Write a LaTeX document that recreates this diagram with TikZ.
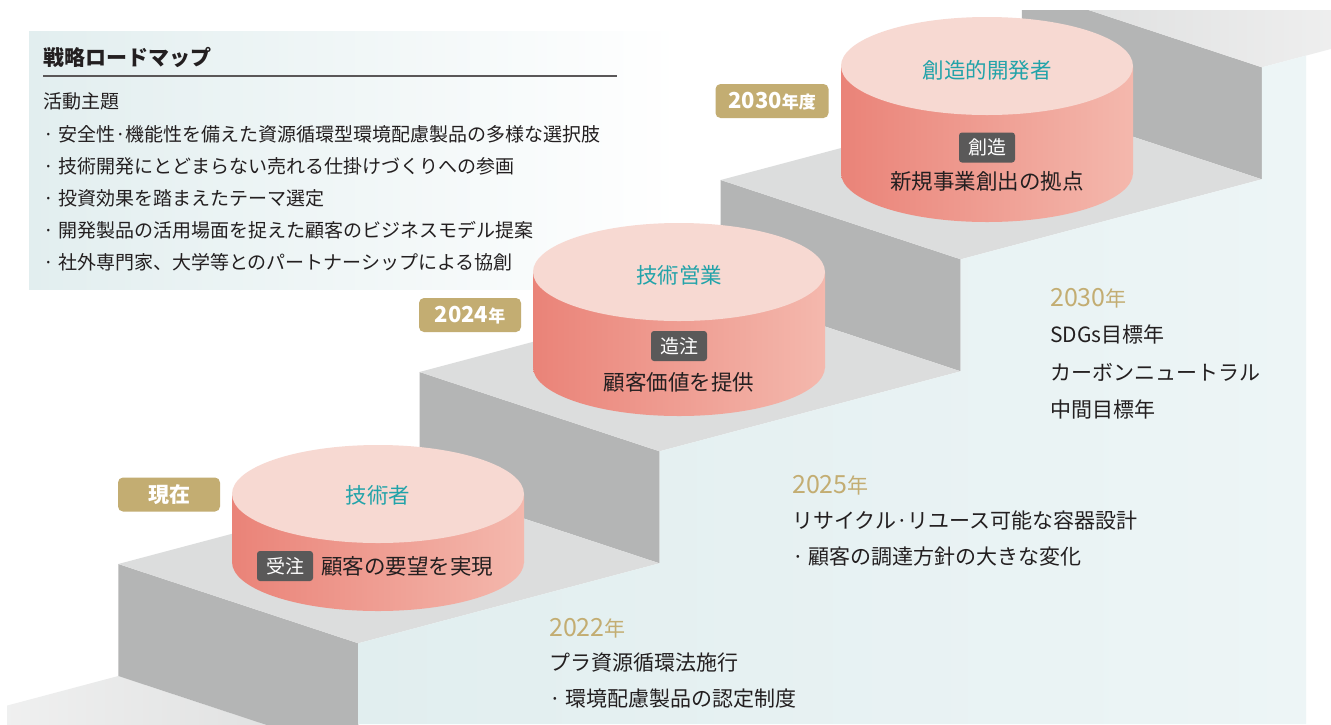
\documentclass[tikz,border=0pt]{standalone}
\usepackage{fontspec}
\setmainfont{Noto Sans CJK JP}
\definecolor{riser}{HTML}{B4B5B5}
\definecolor{tread}{HTML}{DCDDDD}
\definecolor{treadhi}{HTML}{F2F2F2}
\definecolor{faceL}{HTML}{E1EEEF}
\definecolor{faceR}{HTML}{EDF5F6}
\definecolor{panelL}{HTML}{E2EEEF}
\definecolor{cylL}{HTML}{EA8378}
\definecolor{cylR}{HTML}{F4B8AD}
\definecolor{cylTop}{HTML}{F7D9D2}
\definecolor{tealtxt}{HTML}{22A3A9}
\definecolor{goldc}{HTML}{C3AD72}
\definecolor{badgec}{HTML}{5A5959}
\definecolor{ink}{HTML}{231F20}
\newcommand\mycyl[3]{%
  \shade[left color=cylL, right color=cylR] (#1-146,#2) rectangle (#1+146,#2+#3);
  \shade[left color=cylL, right color=cylR] (#1,#2+#3) ellipse [x radius=146, y radius=49];
  \fill[cylTop] (#1,#2) ellipse [x radius=146, y radius=49];
}
\newcommand\yr[3]{{\fontsize{#2}{#2}\selectfont #1}{\fontsize{#3}{#3}\selectfont 年}}
\tikzset{
  body/.style={font=\fontsize{21}{21}\selectfont, text=ink, inner sep=0pt, anchor=west},
  paneltxt/.style={font=\fontsize{19}{19}\selectfont, text=ink, inner sep=0pt, anchor=west},
  cyltitle/.style={font=\fontsize{21.5}{21.5}\selectfont, text=tealtxt, inner sep=0pt},
  cyltxt/.style={font=\fontsize{21.5}{21.5}\selectfont, text=ink, inner sep=0pt},
  badgebox/.style={fill=badgec, text=white, rounded corners=3pt, minimum width=56pt, minimum height=30pt, inner sep=0pt, font=\fontsize{19}{19}\selectfont},
  yearbox/.style={fill=goldc, text=white, rounded corners=5pt, minimum height=34pt, inner sep=0pt, font=\bfseries\fontsize{21}{21}\selectfont},
  yeartxt/.style={text=goldc, inner sep=0pt, anchor=west},
}
\begin{document}
\begin{tikzpicture}[x=1pt,y=-1pt]
\useasboundingbox (0,0) rectangle (1331,724);
\fill[white] (0,0) rectangle (1331,724);
% text panel
\shade[left color=panelL, right color=white] (29,31) rectangle (680,289);
% staircase
\begin{scope}
\clip (0,10) rectangle (1331,724);
\shade[left color=white!55!tread, right color=tread] (7,705.6) -- (118.3,676) -- (358.3,755.3) -- (358.3,760) -- (7,760) -- cycle;
% risers
\fill[riser] (118.3,564) -- (358.3,643.3) -- (358.3,755.3) -- (118.3,676) -- cycle;
\fill[riser] (419.5,372) -- (659.5,451.3) -- (659.5,563.3) -- (419.5,484) -- cycle;
\fill[riser] (720.7,180) -- (960.7,259.3) -- (960.7,371.3) -- (720.7,292) -- cycle;
\fill[riser] (1021.9,-12) -- (1261.9,67.3) -- (1261.9,179.3) -- (1021.9,100) -- cycle;
% treads
\fill[tread] (118.3,564) -- (358.3,643.3) -- (659.5,563.3) -- (419.5,484) -- cycle;
\fill[tread] (419.5,372) -- (659.5,451.3) -- (960.7,371.3) -- (720.7,292) -- cycle;
\fill[tread] (720.7,180) -- (960.7,259.3) -- (1261.9,179.3) -- (1021.9,100) -- cycle;
\shade[left color=tread, right color=treadhi] (1021.9,-12) -- (1261.9,67.3) -- (1400,30.6) -- (1400,-12) -- cycle;
% right face
\shade[left color=faceL, right color=faceR] (358.3,643.3) -- (659.5,563.3) -- (659.5,451.3) -- (960.7,371.3) -- (960.7,259.3) -- (1261.9,179.3) -- (1261.9,67.3) -- (1306,55.6) -- (1306,724) -- (358.3,724) -- cycle;
\end{scope}
% panel texts
\node[paneltxt, font=\bfseries\fontsize{21}{21}\selectfont] (title) at (43,57) {戦略ロードマップ};
\draw[ink!75, line width=1.2pt] (43,76) -- (617,76);
\node[paneltxt] (theme) at (43,101) {活動主題};
\node[paneltxt] (b1) at (43,134) {· 安全性·機能性を備えた資源循環型環境配慮製品の多様な選択肢};
\node[paneltxt] (b2) at (43,166) {· 技術開発にとどまらない売れる仕掛けづくりへの参画};
\node[paneltxt] (b3) at (43,198) {· 投資効果を踏まえたテーマ選定};
\node[paneltxt] (b4) at (43,230) {· 開発製品の活用場面を捉えた顧客のビジネスモデル提案};
\node[paneltxt] (b5) at (43,262) {· 社外専門家、大学等とのパートナーシップによる協創};
% cylinders
\mycyl{378}{494}{68}
\mycyl{679}{272}{95}
\mycyl{987}{66}{107}
\node[cyltitle] (c1t) at (378,495) {技術者};
\node[badgebox] (c1b) at (285,566) {受注};
\node[cyltxt, anchor=west] (c1x) at (321,566) {顧客の要望を実現};
\node[cyltitle] (c2t) at (679,275) {技術営業};
\node[badgebox] (c2b) at (679,346) {造注};
\node[cyltxt] (c2x) at (679,382) {顧客価値を提供};
\node[cyltitle] (c3t) at (987,70) {創造的開発者};
\node[badgebox] (c3b) at (987,147.5) {創造};
\node[cyltxt] (c3x) at (987,181) {新規事業創出の拠点};
% year boxes
\node[yearbox, minimum width=102pt] (y1) at (169,494.5) {現在};
\node[yearbox, minimum width=102pt] (y2) at (470,315) {\yr{2024}{22}{17}};
\node[yearbox, minimum width=113pt] (y3) at (772,101) {{\fontsize{22}{22}\selectfont 2030}{\fontsize{17}{17}\selectfont 年度}};
% right texts
\node[yeartxt] (t30) at (1050,298) {\yr{2030}{25}{21}};
\node[body] (t30a) at (1050,334) {SDGs目標年};
\node[body] (t30b) at (1050,372) {カーボンニュートラル};
\node[body] (t30c) at (1050,409) {中間目標年};
\node[yeartxt] (t25) at (792,485) {\yr{2025}{25}{21}};
\node[body] (t25a) at (792,521) {リサイクル·リユース可能な容器設計};
\node[body] (t25b) at (792,557) {· 顧客の調達方針の大きな変化};
\node[yeartxt] (t22) at (549,628) {\yr{2022}{25}{21}};
\node[body] (t22a) at (549,663) {プラ資源循環法施行};
\node[body] (t22b) at (549,699) {· 環境配慮製品の認定制度};
\end{tikzpicture}
\end{document}
